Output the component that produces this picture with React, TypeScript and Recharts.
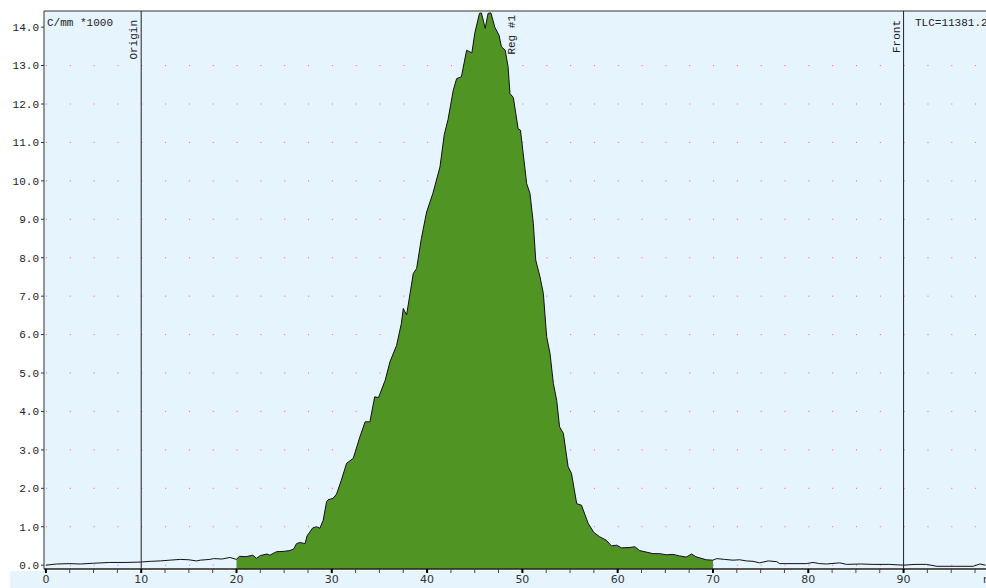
import {
  ComposedChart,
  Area,
  Line,
  XAxis,
  YAxis,
  CartesianGrid,
  ReferenceLine,
} from 'recharts';

// scan position (mm) and counts (C/mm *1000)
const positions = [
  0, 1.1, 2.5, 3.6, 5.0, 6.7, 8.3, 9.9, 11.0, 12.0, 13.0, 14.1, 15.0, 15.8, 16.2, 17.2, 17.6, 18.5, 19.3,
  20.0, 20.3, 21.0, 21.7, 22.1, 22.5, 23.2, 23.5, 24.2, 25.0, 25.6, 26.0, 26.3, 26.65, 27.2, 27.4, 28.0,
  28.4, 28.75, 29.1, 29.45, 29.6, 30.15, 30.5, 31.0, 31.55, 32.25, 32.95, 33.5, 34.0, 34.5, 34.9, 35.6,
  36.1, 36.8, 37.3, 37.5, 37.85, 38.55, 38.9, 39.4, 39.95, 40.6, 41.35, 41.8, 42.2, 42.75, 43.1, 43.6,
  44.15, 44.7, 45.0, 45.5, 45.7, 46.1, 46.4, 46.7, 47.1, 47.55, 47.8, 48.2, 48.5, 48.7, 49.05, 49.55,
  49.8, 50.45, 50.8, 51.15, 51.4, 51.85, 52.2, 52.55, 52.9, 53.25, 53.6, 53.9, 54.3, 54.8, 55.15, 55.7,
  56.2, 56.9, 57.5, 58.1, 58.8, 59.35, 59.9, 60.4, 61.3, 61.8, 62.3, 63.0, 63.7, 64.4, 65.1, 65.8, 66.5,
  67.2, 67.75, 68.2, 68.6, 69.3, 70.0, 70.4, 71.2, 72.1, 72.8, 73.5, 74.2, 74.9, 75.8, 76.7, 77.0, 78.5,
  79.8, 80.5, 81.2, 81.9, 83.3, 84.0, 85.5, 86.8, 88.5, 90.0, 91.2, 92.4, 93.5, 95.5, 97.3, 98.0, 98.6,
];

const density = [
  0.0, 0.03, 0.04, 0.03, 0.05, 0.07, 0.07, 0.08, 0.1, 0.11, 0.13, 0.15, 0.14, 0.11, 0.13, 0.15, 0.17, 0.16, 0.2,
  0.15, 0.23, 0.22, 0.26, 0.18, 0.25, 0.29, 0.26, 0.35, 0.36, 0.38, 0.42, 0.56, 0.59, 0.56, 0.76, 0.97,
  1.0, 0.96, 1.17, 1.65, 1.7, 1.74, 1.85, 2.21, 2.65, 2.78, 3.34, 3.73, 3.73, 4.38, 4.36, 4.81,
  5.29, 5.72, 6.29, 6.68, 6.51, 7.59, 7.72, 8.5, 9.19, 9.67, 10.36, 11.2, 11.6, 12.36, 12.66, 12.71,
  13.4, 13.33, 13.84, 14.36, 14.37, 13.97, 14.36, 14.37, 14.0, 13.79, 13.49, 13.4, 12.97, 12.27, 12.17, 11.36,
  11.32, 9.93, 9.67, 8.89, 7.94, 7.5, 7.07, 5.94, 5.51, 4.73, 4.29, 3.6, 3.43, 2.56, 2.39, 1.6,
  1.56, 1.09, 0.85, 0.74, 0.65, 0.5, 0.52, 0.45, 0.46, 0.48, 0.38, 0.34, 0.3, 0.3, 0.27, 0.28, 0.24,
  0.21, 0.29, 0.22, 0.19, 0.14, 0.13, 0.17, 0.15, 0.13, 0.14, 0.11, 0.1, 0.06, 0.11, 0.09, 0.04, 0.04,
  0.04, 0.07, 0.04, 0.03, 0.06, 0.02, 0.03, 0.02, 0.02, 0.0, 0.02, 0.02, -0.03, -0.03, -0.03, 0.03, 0.0,
];

const regionFrom = 20;
const regionTo = 70;
const origin = 10;
const front = 90;

const yTicks = [0, 1, 2, 3, 4, 5, 6, 7, 8, 9, 10, 11, 12, 13, 14];
const xTicks = Array.from({ length: 40 }, (_, i) => i * 2.5);

const data = positions.map((mm, i) => ({
  mm,
  c: density[i],
  reg: mm >= regionFrom && mm <= regionTo ? density[i] : null,
}));

const X_MIN = -0.2;
const X_MAX = 98.65;
const Y_MIN = -0.1;
const Y_MAX = 14.42;
const BLUE = '#e6f4fd';
const MONO = '"Liberation Mono", "DejaVu Sans Mono", monospace';
const STEP = (942 / (X_MAX - X_MIN)) * 2.5;

const dotRow = (props: any) => {
  const { x1, x2, y1, key } = props;
  if (y1 < 30) return <g key={key} />;
  return (
    <line
      key={key}
      x1={x1}
      x2={x2}
      y1={y1}
      y2={y1}
      stroke="#ff40ff"
      strokeWidth={1}
      strokeDasharray={`1 ${STEP - 1}`}
      strokeDashoffset={STEP - 2}
    />
  );
};

const XTick = (props: any) => {
  const { x, y, payload } = props;
  const major = payload.value % 10 === 0;
  return (
    <g>
      <line
        x1={x}
        x2={x}
        y1={y - 6}
        y2={y - 2}
        stroke={major ? '#000' : '#444'}
        strokeWidth={major ? 2 : 1}
      />
      {major && (
        <text
          x={x}
          y={y}
          dy="0.71em"
          textAnchor="middle"
          fontFamily='"DejaVu Sans", Verdana, sans-serif'
          fontSize={11}
          fill="#333"
        >
          {payload.value}
        </text>
      )}
    </g>
  );
};

const vLabel = (text: string) => (props: any) => {
  const { viewBox } = props;
  const x = viewBox.x - 4;
  const y = viewBox.y + 9;
  return (
    <text
      x={x}
      y={y}
      transform={`rotate(-90 ${x} ${y})`}
      textAnchor="end"
      fontFamily={MONO}
      fontSize={11}
      fill="#222"
    >
      {text}
    </text>
  );
};

export default function App() {
  return (
    <div
      style={{
        position: 'fixed',
        left: 0,
        top: 0,
        width: 986,
        height: 588,
        background: '#fff',
        overflow: 'hidden',
      }}
    >
      <div
        style={{
          position: 'absolute',
          left: 10,
          top: 571,
          width: 976,
          height: 17,
          background: BLUE,
        }}
      />
      <div style={{ position: 'absolute', left: 0, top: 0 }}>
        <ComposedChart
          width={986}
          height={588}
          data={data}
          margin={{ top: 11, right: 0, left: 0, bottom: 0 }}
        >
          <CartesianGrid fill={BLUE} vertical={false} horizontal={dotRow} />
          <XAxis
            dataKey="mm"
            type="number"
            domain={[X_MIN, X_MAX]}
            allowDataOverflow
            ticks={xTicks}
            interval={0}
            height={19}
            tickSize={4}
            tickMargin={2}
            tickLine={false}
            axisLine={{ stroke: '#222', strokeWidth: 1.5 }}
            tick={<XTick />}
          />
          <YAxis
            type="number"
            domain={[Y_MIN, Y_MAX]}
            allowDataOverflow
            ticks={yTicks}
            interval={0}
            width={44}
            tickSize={3}
            tickMargin={2}
            tickLine={{ stroke: '#333' }}
            axisLine={{ stroke: '#333' }}
            tickFormatter={(v) => Number(v).toFixed(1)}
            tick={{ fontFamily: MONO, fontSize: 11, fill: '#222' }}
          />
          <ReferenceLine y={Y_MAX} stroke="#333" />
          <Area
            dataKey="reg"
            type="linear"
            fill="#509424"
            fillOpacity={1}
            stroke="none"
            baseValue="dataMin"
            connectNulls={false}
            isAnimationActive={false}
          />
          <Line
            dataKey="c"
            type="linear"
            stroke="#111"
            strokeWidth={1}
            dot={false}
            isAnimationActive={false}
          />
          <ReferenceLine x={origin} stroke="#222" label={vLabel('Origin')} />
          <ReferenceLine x={front} stroke="#222" label={vLabel('Front')} />
          <text x={47} y={26} fontFamily={MONO} fontSize={11} fill="#222">
            C/mm *1000
          </text>
          <text x={915} y={26} fontFamily={MONO} fontSize={11} fill="#222">
            TLC=11381.2
          </text>
          <text
            x={515}
            y={15}
            transform="rotate(-90 515 15)"
            textAnchor="end"
            fontFamily={MONO}
            fontSize={11}
            fill="#222"
          >
            Reg #1
          </text>
          <text
            x={983}
            y={583}
            fontFamily='"DejaVu Sans", Verdana, sans-serif'
            fontSize={11}
            fill="#333"
          >
            mm
          </text>
        </ComposedChart>
      </div>
    </div>
  );
}
